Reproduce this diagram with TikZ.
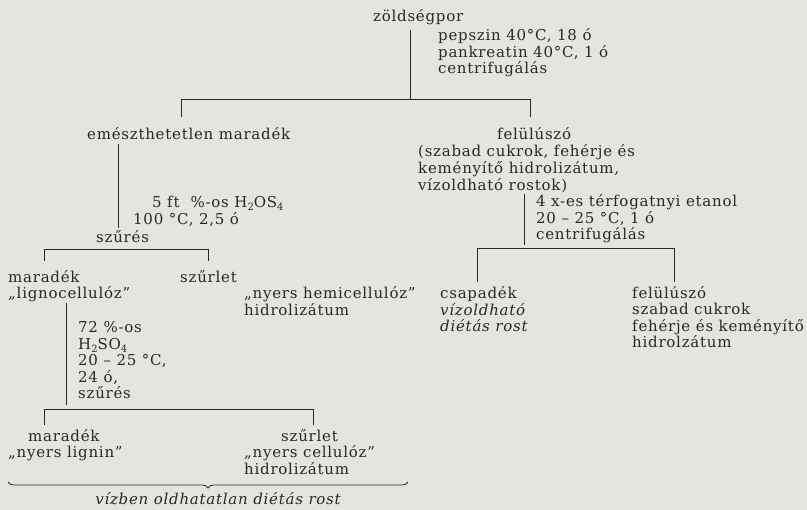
\documentclass[tikz,border=0pt]{standalone}
\usepackage{fontspec}
\setmainfont{DejaVu Serif}[LetterSpace=5]
\usetikzlibrary{decorations.pathreplacing}
\definecolor{paper}{RGB}{228,229,224}
\definecolor{ink}{RGB}{40,40,40}
\newcommand{\lsub}[1]{\raisebox{-0.35ex}{\fontsize{10}{10}\selectfont #1}}
\tikzset{
  txt/.style={anchor=base west, inner sep=0pt, text=ink, align=left,
    font=\fontsize{15}{16.5}\selectfont},
  loose/.style={font=\fontsize{15}{17}\selectfont},
  ln/.style={draw=ink, line width=0.8pt},
}
\begin{document}
\begin{tikzpicture}[x=1pt,y=-1pt]
\fill[paper] (0,0) rectangle (807,510);
\useasboundingbox (0,0) rectangle (807,510);
% texts (multi-line nodes are placed by the baseline of their last line)
\node[txt] (zp) at (373,22) {zöldségpor};
\node[txt] (pep) at (438,74) {pepszin 40°C, 18 ó\\pankreatin 40°C, 1 ó\\centrifugálás};
\node[txt] (em) at (87,140) {emészthetetlen maradék};
\node[txt] (fel) at (497,140) {felülúszó};
\node[txt, loose] (felt) at (418,191) {(szabad cukrok, fehérje és\\keményítő hidrolizátum,\\vízoldható rostok)};
\node[txt] (h1) at (152,208) {5 ft \ \%-os H\lsub{2}OS\lsub{4}};
\node[txt] (h2) at (133,225) {100 °C, 2,5 ó};
\node[txt] (sz1) at (96,243) {szűrés};
\node[txt] (mar1) at (8,299) {maradék\\„lignocellulóz”};
\node[txt] (szl1) at (180,283) {szűrlet};
\node[txt, loose] (hem) at (244,316) {„nyers hemicellulóz”\\hidrolizátum};
\node[txt] (kond2) at (78,399) {72 \%-os\\H\lsub{2}SO\lsub{4}\\20 – 25 °C,\\24 ó,\\szűrés};
\node[txt] (mar2) at (28,442) {maradék};
\node[txt] (lig) at (8,458) {„nyers lignin”};
\node[txt] (szl2) at (281,442) {szűrlet};
\node[txt, loose] (cel) at (244,475) {„nyers cellulóz”\\hidrolizátum};
\node[txt] (et) at (536,240) {4 x-es térfogatnyi etanol\\20 – 25 °C, 1 ó\\centrifugálás};
\node[txt] (csa) at (440,332) {csapadék\\\itshape vízoldható\\\itshape diétás rost};
\node[txt] (fel2) at (632,348) {felülúszó\\szabad cukrok\\fehérje és keményítő\\hidrolzátum};
\node[txt, anchor=base] (viz) at (218,505) {\itshape vízben oldhatatlan diétás rost};
% connectors
\draw[ln] (410,30) -- (410,99);
\draw[ln] (181,117) -- (181,99) -- (530,99) -- (530,117);
\draw[ln] (118,144) -- (118,228);
\draw[ln] (44,261) -- (44,249) -- (208,249) -- (208,261);
\draw[ln] (66,303) -- (66,405);
\draw[ln] (44,425) -- (44,409) -- (313,409) -- (313,425);
\draw[ln] (524,194) -- (524,245);
\draw[ln] (477,282) -- (477,248) -- (674,248) -- (674,282);
\draw[ln, decoration={brace, amplitude=6pt, mirror}, decorate] (8,482) -- (408,482);
\end{tikzpicture}
\end{document}
